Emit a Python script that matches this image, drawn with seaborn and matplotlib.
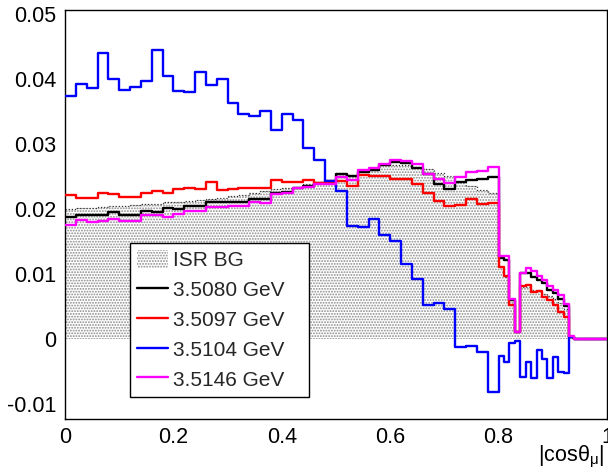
import numpy as np
import pandas as pd
import matplotlib
matplotlib.use("Agg")
import matplotlib.pyplot as plt
from matplotlib.patches import Patch
from matplotlib.lines import Line2D
from matplotlib.ticker import MultipleLocator, FuncFormatter
import seaborn as sns

# |cos theta_mu| binning: 0.02 wide up to 0.8, 0.01 wide above
edges = np.concatenate([np.linspace(0.0, 0.8, 41), np.linspace(0.81, 1.0, 20)])

isr_bg = [0.0200, 0.0201, 0.0201, 0.0203, 0.0204, 0.0204, 0.0206, 0.0207, 0.0208, 0.0210,
          0.0211, 0.0213, 0.0214, 0.0216, 0.0217, 0.0220, 0.0221, 0.0225, 0.0227, 0.0230,
          0.0232, 0.0234, 0.0238, 0.0240, 0.0243, 0.0255, 0.0253, 0.0257, 0.0260, 0.0268,
          0.0268, 0.0268, 0.0264, 0.0262, 0.0256, 0.0250, 0.0242, 0.0235, 0.0229, 0.0224,
          0.0110, 0.0095, 0.0060, 0.0012, 0.0080, 0.0080, 0.0076, 0.0074, 0.0070, 0.0066,
          0.0062, 0.0055, 0.0046, 0.0002, 0.0, 0.0, 0.0, 0.0, 0.0, 0.0]

e_3p5080 = [0.0187, 0.0191, 0.0191, 0.0191, 0.0195, 0.0191, 0.0191, 0.0197, 0.0196, 0.0201,
            0.0200, 0.0205, 0.0205, 0.0211, 0.0211, 0.0210, 0.0210, 0.0215, 0.0215, 0.0224,
            0.0226, 0.0233, 0.0236, 0.0240, 0.0243, 0.0254, 0.0250, 0.0257, 0.0260, 0.0268,
            0.0273, 0.0271, 0.0263, 0.0254, 0.0238, 0.0230, 0.0242, 0.0245, 0.0246, 0.0249,
            0.0124, 0.0122, 0.0060, 0.0011, 0.0101, 0.0101, 0.0096, 0.0091, 0.0086, 0.0075,
            0.0071, 0.0061, 0.0051, 0.0003, 0.0, 0.0, 0.0, 0.0, 0.0, 0.0]

e_3p5097 = [0.0222, 0.0217, 0.0217, 0.0225, 0.0223, 0.0219, 0.0219, 0.0225, 0.0227, 0.0225,
            0.0230, 0.0232, 0.0230, 0.0242, 0.0229, 0.0231, 0.0233, 0.0233, 0.0233, 0.0245,
            0.0242, 0.0242, 0.0245, 0.0240, 0.0240, 0.0243, 0.0235, 0.0252, 0.0250, 0.0251,
            0.0246, 0.0246, 0.0238, 0.0225, 0.0213, 0.0204, 0.0206, 0.0216, 0.0208, 0.0209,
            0.0111, 0.0097, 0.0052, 0.0011, 0.0082, 0.0083, 0.0073, 0.0074, 0.0065, 0.0060,
            0.0052, 0.0042, 0.0034, 0.0003, 0.0, 0.0, 0.0, 0.0, 0.0, 0.0]

e_3p5104 = [0.0373, 0.0392, 0.0386, 0.0440, 0.0400, 0.0383, 0.0388, 0.0397, 0.0444, 0.0405,
            0.0382, 0.0380, 0.0411, 0.0390, 0.0400, 0.0363, 0.0346, 0.0343, 0.0351, 0.0322,
            0.0346, 0.0337, 0.0294, 0.0275, 0.0243, 0.0227, 0.0174, 0.0172, 0.0185, 0.0160,
            0.0150, 0.0115, 0.0092, 0.0052, 0.0055, 0.0046, -0.0012, -0.0010, -0.0020, -0.0081,
            -0.0026, -0.0036, -0.0006, -0.0003, -0.0058, -0.0035, -0.0060, -0.0017, -0.0030, -0.0060,
            -0.0028, -0.0050, -0.0052, 0.0003, 0.0, 0.0, 0.0, 0.0, 0.0, 0.0]

e_3p5146 = [0.0176, 0.0183, 0.0180, 0.0181, 0.0184, 0.0182, 0.0182, 0.0190, 0.0190, 0.0188,
            0.0192, 0.0197, 0.0197, 0.0203, 0.0203, 0.0204, 0.0205, 0.0211, 0.0209, 0.0223,
            0.0224, 0.0232, 0.0234, 0.0238, 0.0238, 0.0249, 0.0245, 0.0260, 0.0263, 0.0269,
            0.0275, 0.0274, 0.0269, 0.0254, 0.0246, 0.0240, 0.0249, 0.0257, 0.0259, 0.0264,
            0.0128, 0.0128, 0.0062, 0.0011, 0.0101, 0.0109, 0.0104, 0.0097, 0.0091, 0.0082,
            0.0075, 0.0067, 0.0054, 0.0004, 0.0, 0.0, 0.0, 0.0, 0.0, 0.0]

labels = ["3.5080 GeV", "3.5097 GeV", "3.5104 GeV", "3.5146 GeV"]
colors = ["#000000", "#ff0000", "#0000ff", "#ff00ff"]
series = [e_3p5080, e_3p5097, e_3p5104, e_3p5146]

sns.set_theme(style="white")
plt.rcParams["font.family"] = ["Liberation Sans", "DejaVu Sans"]
plt.rcParams["mathtext.fontset"] = "custom"
plt.rcParams["mathtext.rm"] = "Liberation Sans"
plt.rcParams["mathtext.it"] = "Liberation Sans"
plt.rcParams["hatch.linewidth"] = 0.9

fig = plt.figure(figsize=(6.08, 4.73), dpi=100)
ax = fig.add_axes([65 / 608, 54 / 473, 542 / 608, 409 / 473])

# step histograms: repeat last content at the upper edge
def steps(vals):
    return np.append(np.asarray(vals, dtype=float), vals[-1])

# ISR background: dotted fill with dotted outline
isr_y = steps(isr_bg)
ax.fill_between(edges, 0, isr_y, step="post", facecolor="white",
                edgecolor="#8a8a8a", hatch="......", linewidth=0, zorder=1)
ax.step(edges, isr_y, where="post", color="#333333", lw=0.9,
        linestyle=(0, (1, 1.5)), zorder=2)

frames = []
for lab, vals in zip(labels, series):
    frames.append(pd.DataFrame({"cos": edges, "val": steps(vals), "label": lab}))
df = pd.concat(frames, ignore_index=True)

sns.lineplot(data=df, x="cos", y="val", hue="label", hue_order=labels,
             palette=dict(zip(labels, colors)), estimator=None, sort=False,
             drawstyle="steps-post", linewidth=1.7, legend=False, ax=ax, zorder=3)

ax.set_xlim(0, 1)
ax.set_ylim(-0.0123, 0.0506)

ax.xaxis.set_major_locator(MultipleLocator(0.2))
ax.xaxis.set_minor_locator(MultipleLocator(0.05))
ax.yaxis.set_major_locator(MultipleLocator(0.01))
ax.yaxis.set_minor_locator(MultipleLocator(0.002))
fmt = FuncFormatter(lambda v, p: f"{v:.10g}" if abs(v) > 1e-9 else "0")
ax.xaxis.set_major_formatter(fmt)
ax.yaxis.set_major_formatter(fmt)

ax.tick_params(which="both", direction="in", top=False, right=False,
               color="black", width=1, labelsize=15.5, labelcolor="black")
ax.tick_params(which="major", length=11.5, pad=6)
ax.tick_params(which="minor", length=5.5)
for s in ax.spines.values():
    s.set_color("black")
    s.set_linewidth(1.0)

ax.set_ylabel("")
ax.set_xlabel(r"|cos$\mathregular{\theta_{\mu}}$|", fontsize=15.5, color="black",
              ha="right", va="top")
ax.xaxis.set_label_coords(0.995, -0.06)

handles = [Patch(facecolor="white", edgecolor="#8a8a8a", hatch="......",
                 linewidth=0)]
handles += [Line2D([0], [0], color=c, lw=1.7) for c in colors]
leg = ax.legend(handles, ["ISR BG"] + labels, loc="lower left",
                bbox_to_anchor=(0.120, 0.054, 0.331, 0.38), mode="expand",
                fontsize=15, frameon=True,
                fancybox=False, framealpha=1, edgecolor="black",
                handlelength=1.45, handleheight=1.0, handletextpad=0.25,
                labelspacing=0.45, borderpad=0.35, borderaxespad=0)
leg.get_frame().set_linewidth(1.0)
leg.set_zorder(5)

fig.savefig("out.png", dpi=100)
